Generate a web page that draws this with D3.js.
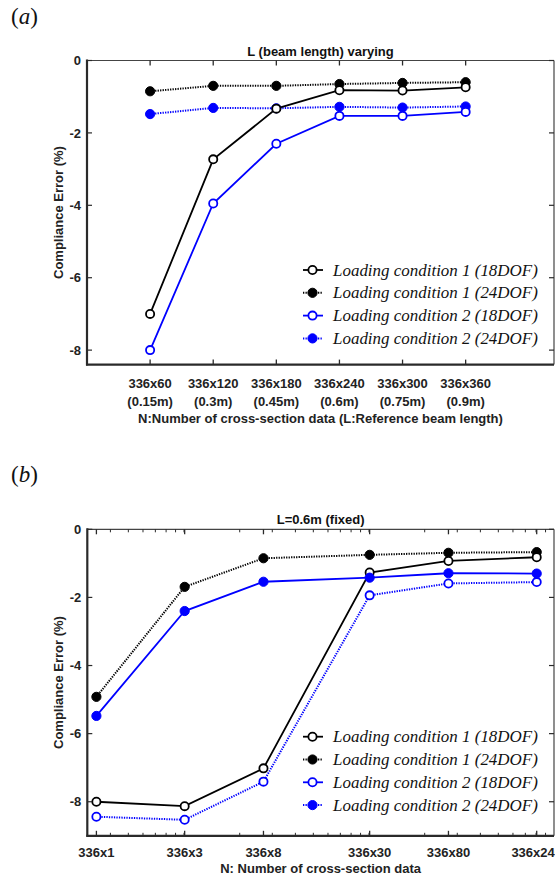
<!DOCTYPE html>
<html><head><meta charset="utf-8">
<script src="https://cdn.jsdelivr.net/npm/d3@7"></script>
<style>body{margin:0;background:#fff}</style>
</head><body>
<svg id="c" width="555" height="879"></svg>
<script>
// ---------- data ----------
const seriesNames = ["Loading condition 1 (18DOF)", "Loading condition 1 (24DOF)", "Loading condition 2 (18DOF)", "Loading condition 2 (24DOF)"];

// chart (a)
const catsA = ["336x60", "336x120", "336x180", "336x240", "336x300", "336x360"];
const catsA2 = ["(0.15m)", "(0.3m)", "(0.45m)", "(0.6m)", "(0.75m)", "(0.9m)"];
const aLC1_18 = [-7.0, -2.73, -1.33, -0.82, -0.83, -0.74];
const aLC1_24 = [-0.85, -0.70, -0.70, -0.65, -0.62, -0.60];
const aLC2_18 = [-8.0, -3.95, -2.30, -1.53, -1.53, -1.42];
const aLC2_24 = [-1.48, -1.31, -1.32, -1.28, -1.30, -1.27];

// chart (b)
const catsB = ["336x1", "336x3", "336x8", "336x30", "336x80", "336x240"];
const nB = [1, 3, 8, 30, 80, 240];
const bLC1_18 = [-8.0, -8.13, -7.02, -1.27, -0.93, -0.82];
const bLC1_24 = [-4.92, -1.69, -0.85, -0.75, -0.69, -0.67];
const bLC2_18 = [-8.44, -8.53, -7.41, -1.94, -1.59, -1.55];
const bLC2_24 = [-5.48, -2.40, -1.54, -1.42, -1.29, -1.30];

const yTickVals = [0, -2, -4, -6, -8];

// ---------- drawing ----------
const svg = d3.select("#c");
const SANS = "'Liberation Sans', Arial, sans-serif";
const SERIF = "'Liberation Serif', 'Times New Roman', serif";
const BLUE = "#0000ff";

function drawPanel(o) {
  const g = svg.append("g");
  const x = o.x, y = o.y;
  const [x0, x1] = x.range();
  const [yb, yt] = y.range();

  // series lines
  o.series.forEach(s => {
    const line = d3.line().x((d, i) => x(o.xs[i])).y(d => y(d));
    g.append("path").attr("d", line(s.values))
      .attr("fill", "none").attr("stroke", s.color)
      .attr("stroke-width", s.dotted ? 2 : 1.8)
      .attr("stroke-dasharray", s.dotted ? "1.3,1.2" : null);
  });
  o.series.forEach(s => {
    g.selectAll(null).data(s.values).enter().append("circle")
      .attr("cx", (d, i) => x(o.xs[i])).attr("cy", d => y(d))
      .attr("r", s.filled ? 4.6 : 4.1)
      .attr("fill", s.filled ? s.color : "#fff")
      .attr("stroke", s.color).attr("stroke-width", s.filled ? 1 : 1.8);
  });

  // axes frame
  const ax = g.append("g").attr("stroke", "#2a2a2a");
  ax.append("line").attr("x1", x0).attr("x2", x1).attr("y1", yt).attr("y2", yt).attr("stroke-width", 1.2).attr("stroke", "#444");
  ax.append("line").attr("x1", x1).attr("x2", x1).attr("y1", yt).attr("y2", yb).attr("stroke-width", 1.2).attr("stroke", "#444");
  ax.append("line").attr("x1", x0).attr("x2", x0).attr("y1", yt - 1).attr("y2", yb + 1).attr("stroke-width", 2.2);
  ax.append("line").attr("x1", x0 - 1).attr("x2", x1).attr("y1", yb).attr("y2", yb).attr("stroke-width", 2.2);

  // y ticks
  yTickVals.forEach(v => {
    ax.append("line").attr("x1", x0).attr("x2", x0 + 5).attr("y1", y(v)).attr("y2", y(v)).attr("stroke-width", 1.2);
    ax.append("line").attr("x1", x1).attr("x2", x1 - 5).attr("y1", y(v)).attr("y2", y(v)).attr("stroke-width", 1.2);
    g.append("text").attr("x", x0 - 6).attr("y", y(v)).attr("dy", "0.36em")
      .attr("text-anchor", "end").attr("font-family", SANS).attr("font-weight", "bold")
      .attr("font-size", 13).attr("fill", "#222").text(v === 0 ? "0" : "-" + Math.abs(v));
  });
  // minor x ticks
  (o.minor || []).forEach(v => {
    ax.append("line").attr("x1", x(v)).attr("x2", x(v)).attr("y1", yt).attr("y2", yt + 3).attr("stroke-width", 1);
    ax.append("line").attr("x1", x(v)).attr("x2", x(v)).attr("y1", yb).attr("y2", yb - 3).attr("stroke-width", 1);
  });
  // major x ticks
  o.xs.forEach(v => {
    ax.append("line").attr("x1", x(v)).attr("x2", x(v)).attr("y1", yt).attr("y2", yt + 5).attr("stroke-width", 1.3);
    ax.append("line").attr("x1", x(v)).attr("x2", x(v)).attr("y1", yb).attr("y2", yb - 5).attr("stroke-width", 1.3);
  });
  // x tick labels
  o.labels.forEach((row, r) => {
    row.forEach((t, i) => {
      g.append("text").attr("x", x(o.xs[i])).attr("y", o.labelY[r])
        .attr("text-anchor", "middle").attr("font-family", SANS).attr("font-weight", "bold")
        .attr("font-size", 13).attr("fill", "#222").text(t);
    });
  });
  // x title
  g.append("text").attr("x", (x0 + x1) / 2).attr("y", o.xTitleY)
    .attr("text-anchor", "middle").attr("font-family", SANS).attr("font-weight", "bold")
    .attr("font-size", 13).attr("fill", "#222").text(o.xTitle);
  // title
  g.append("text").attr("x", (x0 + x1) / 2).attr("y", yt - 5)
    .attr("text-anchor", "middle").attr("font-family", SANS).attr("font-weight", "bold")
    .attr("font-size", 13).attr("fill", "#111").text(o.title);
  // y title
  g.append("text").attr("transform", `translate(63,${(yt + yb) / 2}) rotate(-90)`)
    .attr("text-anchor", "middle").attr("font-family", SANS).attr("font-weight", "bold")
    .attr("font-size", 13).attr("fill", "#222").text("Compliance Error (%)");
  // panel letter
  const pl = g.append("text").attr("x", 11).attr("y", o.letterY).attr("font-family", SERIF).attr("font-size", 23).attr("fill", "#111");
  pl.append("tspan").text("(");
  pl.append("tspan").attr("font-style", "italic").text(o.letter);
  pl.append("tspan").text(")");

  // legend
  const lg = g.append("g");
  o.legend.forEach((s, i) => {
    const cy = o.legendY + i * 22.8;
    lg.append("line").attr("x1", 303).attr("x2", 323).attr("y1", cy).attr("y2", cy)
      .attr("stroke", s.color).attr("stroke-width", s.dotted ? 2 : 1.8)
      .attr("stroke-dasharray", s.dotted ? "1.3,1.2" : null);
    lg.append("circle").attr("cx", 312.5).attr("cy", cy).attr("r", s.filled ? 4.6 : 4.1)
      .attr("fill", s.filled ? s.color : "#fff").attr("stroke", s.color).attr("stroke-width", s.filled ? 1 : 1.8);
    const t = lg.append("text").attr("x", 333).attr("y", cy).attr("dy", "0.33em")
      .attr("font-family", SERIF).attr("font-style", "italic").attr("font-size", 18)
      .attr("fill", "#111").text(s.name);
    const w = t.node().getComputedTextLength();
    t.attr("font-size", 18 * 205 / w);
  });
}

const legendStyles = [
  { name: seriesNames[0], color: "#000", filled: false, dotted: false },
  { name: seriesNames[1], color: "#000", filled: true, dotted: true },
  { name: seriesNames[2], color: BLUE, filled: false, dotted: false },
  { name: seriesNames[3], color: BLUE, filled: true, dotted: true }
];

// panel (a)
const xA = d3.scaleLinear().domain([0, 7.4]).range([87, 554]);
const yA = d3.scaleLinear().domain([-8.4, 0]).range([364.6, 60.5]);
drawPanel({
  x: xA, y: yA, xs: [1, 2, 3, 4, 5, 6],
  series: [
    { values: aLC1_24, color: "#000", filled: true, dotted: true },
    { values: aLC2_24, color: BLUE, filled: true, dotted: true },
    { values: aLC2_18, color: BLUE, filled: false, dotted: false },
    { values: aLC1_18, color: "#000", filled: false, dotted: false }
  ],
  labels: [catsA, catsA2], labelY: [388, 405.5],
  xTitle: "N:Number of cross-section data (L:Reference beam length)", xTitleY: 423,
  title: "L (beam length) varying", letter: "a", letterY: 24,
  legend: legendStyles, legendY: 270
});

// panel (b)
const xB = d3.scaleLog().domain([300, 100000]).range([87.3, 554]);
const nTotB = nB.map(n => 336 * n);
const minorB = [];
[100, 1000, 10000].forEach(d => { for (let k = 1; k <= 9; k++) { const v = k * d; if (v > 300 && v < 100000) minorB.push(v); } });
drawPanel({
  x: xB, y: d3.scaleLinear().domain([-9, 0]).range([835.8, 529.3]), xs: nTotB, minor: minorB,
  series: [
    { values: bLC1_24, color: "#000", filled: true, dotted: true },
    { values: bLC2_18, color: BLUE, filled: false, dotted: true },
    { values: bLC1_18, color: "#000", filled: false, dotted: false },
    { values: bLC2_24, color: BLUE, filled: true, dotted: false }
  ],
  labels: [catsB], labelY: [856.5],
  xTitle: "N: Number of cross-section data", xTitleY: 873,
  title: "L=0.6m (fixed)", letter: "b", letterY: 482,
  legend: legendStyles, legendY: 736.7
});
</script>
</body></html>
